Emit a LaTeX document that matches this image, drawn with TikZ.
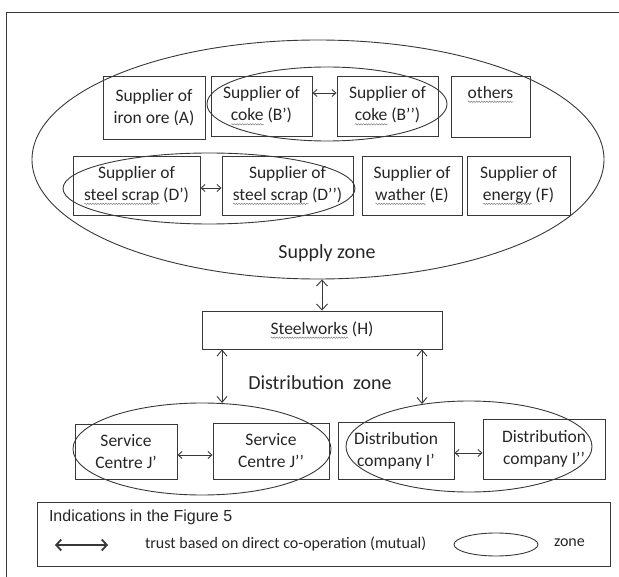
\documentclass[tikz,border=0pt]{standalone}
\usepackage{fontspec}
\setmainfont{Carlito}
\newfontfamily\legfont{Liberation Sans}
\usetikzlibrary{shapes.geometric,arrows.meta,calc,decorations.pathmorphing}
\newsavebox\wavybox
\newcommand\wavy[1]{\sbox\wavybox{#1}\leavevmode\rlap{\raisebox{-3.5pt}{\tikz[baseline=0pt]\draw[black!50,line width=0.5pt,decorate,decoration={snake,amplitude=0.7pt,segment length=2.6pt}] (0pt,0pt) -- (\wd\wavybox,0pt);}}\usebox\wavybox}
\tikzset{
 ln/.style={draw=black!78, line width=0.9pt},
 box/.style={ln, rectangle, inner sep=0pt, align=center, font=\fontsize{17.5}{22}\selectfont, text=black!85},
 zone/.style={ln, ellipse, inner sep=0pt},
 lbl/.style={font=\fontsize{20}{24}\selectfont, text=black!85},
 arr/.style={ln, {Straight Barb[length=4pt,width=7pt]}-{Straight Barb[length=4pt,width=7pt]}},
 legtxt/.style={anchor=west, text=black!85, font=\fontsize{16}{19}\selectfont},
}
\begin{document}
\begin{tikzpicture}[x=1pt,y=-1pt]
\useasboundingbox (0,0) rectangle (619,577);
% frame
\draw[ln] (6,590) -- (6,12) -- (630,12);

% supply zone
\node[zone, minimum width=572pt, minimum height=239pt] (sup) at (318,159.5) {};
\node[box, minimum width=102pt, minimum height=63pt] (A) at (154,107.5) {Supplier of\\iron ore (A)};
\node[box, minimum width=101pt, minimum height=60pt] (B1) at (261.5,106) {Supplier of\\\wavy{coke} (B’)};
\node[box, minimum width=101pt, minimum height=60pt] (B2) at (387.5,106) {Supplier of\\\wavy{coke} (B’’)};
\node[box, minimum width=79pt, minimum height=61pt] (oth) at (490.5,106.5) {\wavy{others}\\\strut};
\node[box, minimum width=127pt, minimum height=59pt] (D1) at (136.5,185.5) {Supplier of\\\wavy{steel scrap} (D’)};
\node[box, minimum width=131pt, minimum height=59pt] (D2) at (287.5,185.5) {Supplier of\\\wavy{steel scrap} (D’’)};
\node[box, minimum width=100pt, minimum height=59pt] (E) at (412,185.5) {Supplier of\\\wavy{wather} (E)};
\node[box, minimum width=103pt, minimum height=59pt] (F) at (518.5,185.5) {Supplier of\\\wavy{energy} (F)};
\node[zone, minimum width=240pt, minimum height=74pt] (cokez) at (327,104) {};
\node[zone, minimum width=292pt, minimum height=71pt] (scrapz) at (209,188.5) {};
\node[lbl] (supl) at (327,253) {Supply zone};

\coordinate (yb) at (0,93);
\coordinate (yd) at (0,188);
\draw[arr] (B1.east |- yb) -- (B2.west |- yb);
\draw[arr] (D1.east |- yd) -- (D2.west |- yd);

% steelworks
\node[box, minimum width=240pt, minimum height=38pt] (steel) at (322,330) {\wavy{Steelworks} (H)};
\draw[arr, {Straight Barb[length=6pt,width=11pt]}-{Straight Barb[length=6pt,width=11pt]}] (sup.south -| steel.north) -- (steel.north);

% distribution zone
\node[lbl] (dist) at (320,383) {Distribution\ \ zone};
\node[box, minimum width=102pt, minimum height=55pt] (J1) at (126,451.5) {Service\\Centre J’};
\node[box, minimum width=116pt, minimum height=56pt] (J2) at (271,451) {Service\\Centre J’’};
\node[box, minimum width=116pt, minimum height=57pt] (I1) at (396,450.5) {Distribution\\company I’};
\node[box, minimum width=122pt, minimum height=60pt] (I2) at (544,449) {Distribution\\company I’’};
\node[zone, minimum width=258pt, minimum height=92pt] (Jz) at (202,449) {};
\node[zone, minimum width=246pt, minimum height=91pt] (Iz) at (469,446.5) {};

\coordinate (xl) at (222,0);
\coordinate (xr) at (422,0);
\draw[arr, {Straight Barb[length=6pt,width=10pt]}-{Straight Barb[length=6pt,width=10pt]}] (steel.south -| xl) -- ($(xl |- Jz.north)+(0,0.5)$);
\draw[arr, {Straight Barb[length=6pt,width=10pt]}-{Straight Barb[length=6pt,width=10pt]}] (steel.south -| xr) -- ($(xr |- Iz.north)+(0,3.5)$);

\coordinate (yj) at (0,455);
\coordinate (yi) at (0,453);
\draw[arr] (J1.east |- yj) -- (J2.west |- yj);
\draw[arr] (I1.east |- yi) -- (I2.west |- yi);

% legend
\node[ln, rectangle, minimum width=573pt, minimum height=64pt] (leg) at (323.5,534) {};
\node[legtxt, font=\legfont\fontsize{16}{19}\selectfont] (legt) at (45.5,517) {Indications in the Figure 5};
\coordinate (la) at (55,545);
\coordinate (lb) at (108,545);
\draw[ln, line width=1.8pt, {Straight Barb[length=5pt,width=11pt]}-{Straight Barb[length=5pt,width=11pt]}] (la) -- (lb);
\node[legtxt] (legx) at (141.5,544) {trust based on direct co-operation (mutual)};
\node[zone, minimum width=84pt, minimum height=23pt] (legz) at (496,544.5) {};
\node[legtxt] (legzt) at (550.5,543) {zone};
\end{tikzpicture}
\end{document}
